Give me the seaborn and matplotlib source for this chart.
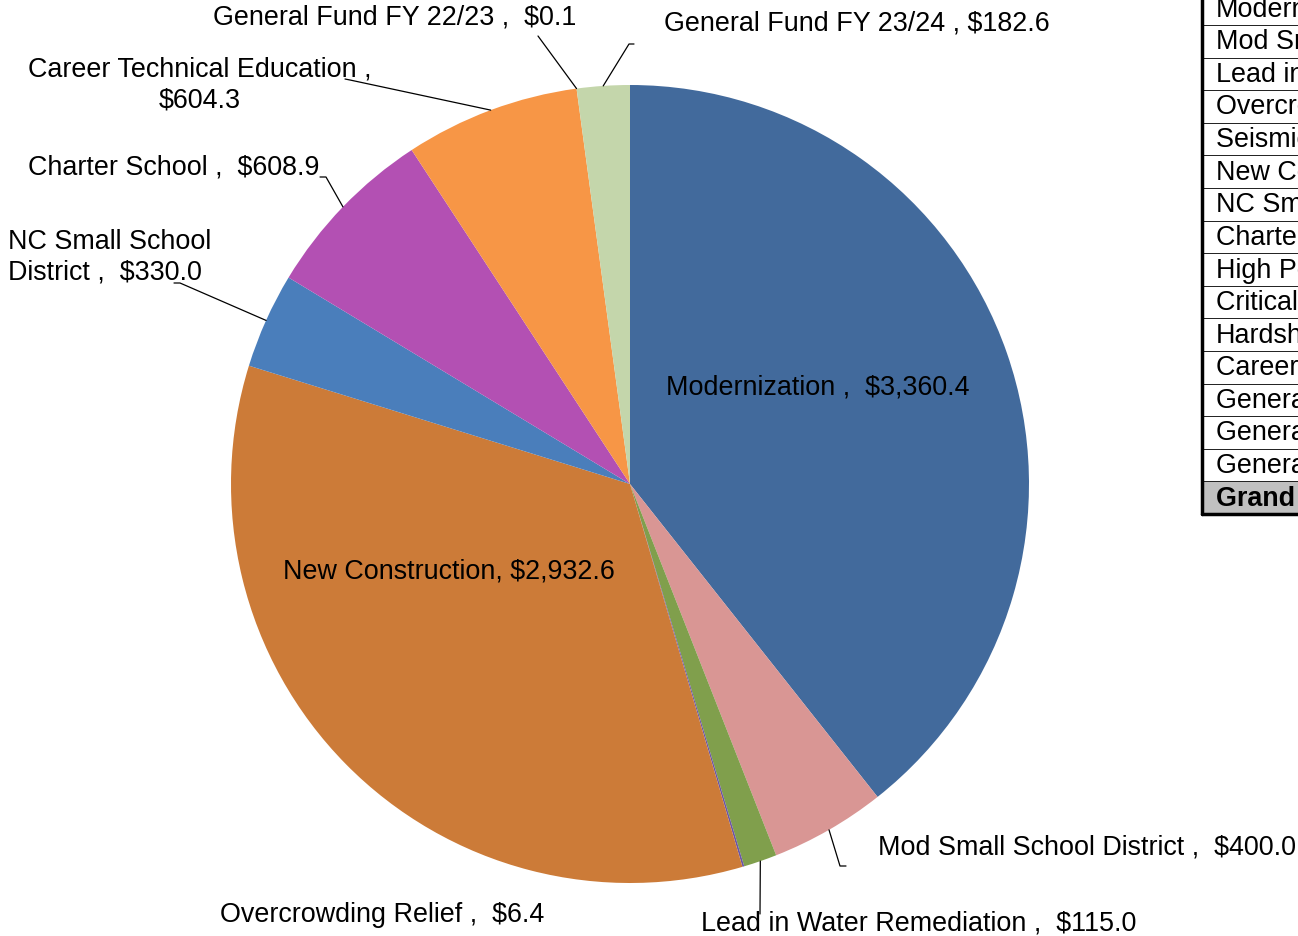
import numpy as np
import seaborn as sns
import matplotlib.pyplot as plt
from matplotlib.patches import Rectangle

# funding categories, clockwise from 12 o'clock ($ millions)
categories = ["Modernization", "Mod Small School District", "Lead in Water Remediation",
              "Overcrowding Relief", "New Construction", "NC Small School District",
              "Charter School", "Career Technical Education", "General Fund FY 22/23",
              "General Fund FY 23/24"]
values = [3360.4, 400.0, 115.0, 6.4, 2932.6, 330.0, 608.9, 604.3, 0.1, 182.6]
labels = ["Modernization ,  $3,360.4", "Mod Small School District ,  $400.0",
          "Lead in Water Remediation ,  $115.0", "Overcrowding Relief ,  $6.4",
          "New Construction, $2,932.6", "NC Small School\nDistrict ,  $330.0",
          "Charter School ,  $608.9", "Career Technical Education ,\n$604.3",
          "General Fund FY 22/23 ,  $0.1", "General Fund FY 23/24 , $182.6"]
colors = ["#426A9C", "#D99694", "#809F4C", "#6A55A5", "#CC7B38",
          "#4A7EBB", "#B350B3", "#F79646", "#F2A66B", "#C4D6AB"]

# rows of the summary table (cut off by the right edge of the picture)
table_rows = ["Modernization", "Mod Small School District", "Lead in Water Remediation",
              "Overcrowding Relief", "Seismic Mitigation", "New Construction",
              "NC Small School District", "Charter School", "High Performance Incentive",
              "Critically Overcrowded Schools", "Hardship", "Career Technical Education",
              "General Fund FY 21/22", "General Fund FY 22/23", "General Fund FY 23/24",
              "Grand Total"]

sns.set_style("white")
plt.rcParams["font.family"] = ["Liberation Sans", "DejaVu Sans"]
FS = 19.4

W, H = 1298, 936
fig = plt.figure(figsize=(W / 100, H / 100), dpi=100)
ax = fig.add_axes([0, 0, 1, 1])
ax.set_aspect("equal")
ax.axis("off")

cx, cy, r = 630, 484, 399
# y axis is inverted below, so counterclock in data space runs clockwise on screen
ax.pie(values, colors=colors, startangle=-90, counterclock=True,
       center=(cx, cy), radius=r, wedgeprops=dict(linewidth=0))
ax.set_xlim(0, W)
ax.set_ylim(H, 0)  # pixel coordinates, y down

# label positions (text anchor, ha) and leader elbows
label_pos = {
    "Modernization": ((818, 387), "center", None),
    "Mod Small School District": ((878, 848), "left", [(840, 866), (846, 866)]),
    "Lead in Water Remediation": ((701, 923), "left", [(760, 914)]),
    "Overcrowding Relief": ((220, 915), "left", None),
    "New Construction": ((449, 571), "center", None),
    "NC Small School District": ((8, 257), "left", [(180, 283), (174, 283)]),
    "Charter School": ((28, 167), "left", [(326, 177), (320, 177)]),
    "Career Technical Education": ((200, 85), "center", [(350, 80), (345, 79)]),
    "General Fund FY 22/23": ((213, 18), "left", [(538, 36)]),
    "General Fund FY 23/24": ((664, 23), "left", [(629, 44), (634, 44)]),
}

total = sum(values)
cum = np.cumsum([0] + values)
for i, cat in enumerate(categories):
    (tx, ty), ha, elbow = label_pos[cat]
    ax.text(tx, ty, labels[i], ha=ha, va="center", fontsize=FS, color="black",
            multialignment="center" if ha == "center" else "left", linespacing=1.22)
    if elbow:
        mid = (cum[i] + values[i] / 2) / total * 2 * np.pi
        sx, sy = cx + r * np.sin(mid), cy - r * np.cos(mid)
        xs = [sx] + [p[0] for p in elbow]
        ys = [sy] + [p[1] for p in elbow]
        ax.plot(xs, ys, color="black", lw=0.9)

# summary table at the right edge
tx0, row_h, top = 1202, 32.6, -7.6
for j, name in enumerate(table_rows):
    y0 = top + j * row_h
    grand = name == "Grand Total"
    ax.add_patch(Rectangle((tx0, y0), 200, row_h, facecolor="#C0C0C0" if grand else "white",
                           edgecolor="#222222", lw=0.7))
    ax.text(tx0 + 14, y0 + row_h / 2 + 1, name, ha="left", va="center", fontsize=FS,
            fontweight="bold" if grand else "normal", color="black")
bottom = top + len(table_rows) * row_h
ax.plot([tx0, tx0], [top, bottom], color="black", lw=2.5)
ax.plot([tx0, W + 5], [bottom, bottom], color="black", lw=2.5)

fig.savefig("out.png", dpi=100, facecolor="white")
